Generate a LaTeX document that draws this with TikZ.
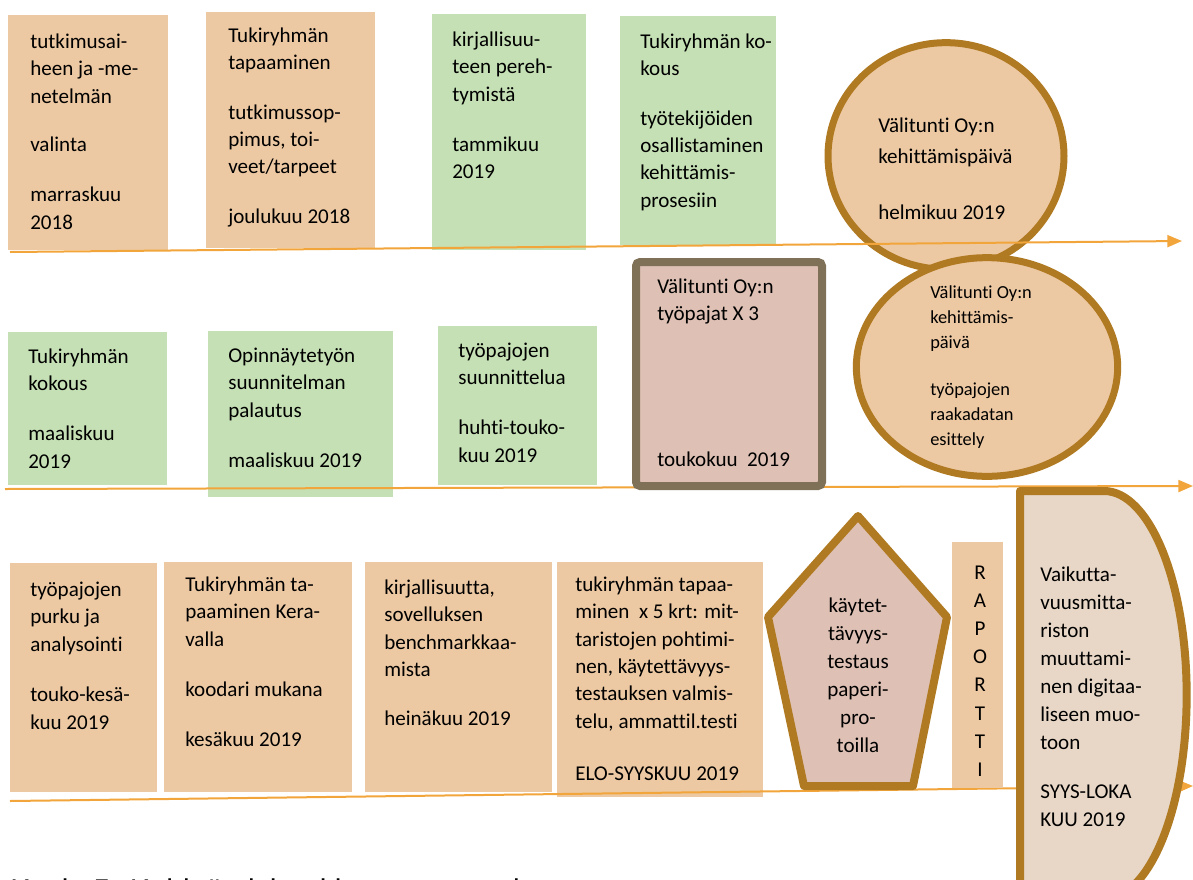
\documentclass[tikz,border=0pt]{standalone}
\usepackage{fontspec}
\newfontfamily\calfont[Ligatures=NoCommon]{Carlito}
\newfontfamily\capfont{Liberation Sans}
\usetikzlibrary{arrows.meta}
\definecolor{peach}{HTML}{EDC9A3}
\definecolor{mint}{HTML}{C5E0B4}
\definecolor{rose}{HTML}{DEC1B4}
\definecolor{beige}{HTML}{E8D7C6}
\definecolor{bronze}{HTML}{B07A22}
\definecolor{taupe}{HTML}{7F7157}
\definecolor{tangerine}{HTML}{F2A53A}
\begin{document}
\begin{tikzpicture}[x=0.75pt,y=-0.75pt,
 txt/.style={anchor=north west,inner sep=0pt,align=left,font=\calfont\fontsize{15.8}{20.5}\selectfont},
 stxt/.style={txt,font=\calfont\fontsize{13.8}{18.75}\selectfont},
 timeline/.style={draw=tangerine,line width=1.5pt,-{Triangle[length=11pt,width=9pt]}},
 bronzeborder/.style={draw=bronze,line width=5.5pt,line join=round}]
\useasboundingbox (0,0) rectangle (1193,879);
\clip (0,0) rectangle (1193,879);
\fill[white] (0,0) rectangle (1193,879);

% ---------- row 1 ----------
\fill[peach] (8,15) rectangle (168,250);
\fill[peach] (206,12) rectangle (375,248);
\fill[mint] (432,14) rectangle (586,250);
\fill[mint] (620,16) rectangle (776,245);
\draw[bronzeborder,line width=5.25pt,fill=peach] (946,156) ellipse [x radius=88.5pt,y radius=85pt];

\node[txt] (tA) at (30,29) {\strut tutkimusai-\\heen ja -me-\\netelmän\\[16pt]valinta\\[17pt]marraskuu\\2018};
\node[txt] (tB) at (228,23) {\strut Tukiryhmän\\tapaaminen\\[16.5pt]tutkimussop-\\pimus, toi-\\veet/tarpeet\\[16.5pt]joulukuu 2018};
\node[txt] (tC) at (452,27) {\strut kirjallisuu-\\teen pereh-\\tymistä\\[17pt]tammikuu\\2019};
\node[txt] (tD) at (640,29) {\strut Tukiryhmän ko-\\kous\\[16.5pt]työtekijöiden\\osallistaminen\\kehittämis-\\prosesiin};
\node[txt] (tE) at (878,113) {\strut Välitunti Oy:n\\[3pt]kehittämispäivä\\[21pt]helmikuu 2019};

\coordinate (l1s) at (10,252);
\coordinate (l1e) at (1182,241);
\draw[timeline] (l1s) -- (l1e);

% ---------- row 2 ----------
\fill[mint] (8,332) rectangle (167,485);
\fill[mint] (208,331) rectangle (393,497);
\fill[mint] (438,326) rectangle (597,485);

\node[txt] (tF) at (28,344) {\strut Tukiryhmän\\kokous\\[17pt]maaliskuu\\2019};
\node[txt] (tG) at (228,343) {\strut Opinnäytetyön\\suunnitelman\\palautus\\[17.5pt]maaliskuu 2019};
\node[txt] (tH) at (458,338) {\strut työpajojen\\suunnittelua\\[17pt]huhti-touko-\\kuu 2019};

\coordinate (l2s) at (5,489);
\coordinate (l2e) at (1193,486);
\draw[timeline] (l2s) -- (l2e);

\draw[draw=taupe,line width=6pt,fill=rose,rounded corners=3pt] (636,262) rectangle (822,486);
\node[txt] (tI) at (657,274) {\strut Välitunti Oy:n\\työpajat X 3\\[89pt]toukokuu\ \ 2019};

\draw[bronzeborder,line width=5.25pt,fill=peach] (987,367) ellipse [x radius=98pt,y radius=82pt];
\node[stxt] (tJ) at (930,281) {\strut Välitunti Oy:n\\kehittämis-\\päivä\\[16.5pt]työpajojen\\raakadatan\\esittely};

% ---------- row 3 ----------
\fill[peach] (10,563) rectangle (157,792);
\fill[peach] (164,562) rectangle (352,792);
\fill[peach] (365,562) rectangle (552,792);
\fill[peach] (557,562) rectangle (763,797);

\node[txt] (tK) at (30,577) {\strut työpajojen\\purku ja\\analysointi\\[17.5pt]touko-kesä-\\kuu 2019};
\node[txt] (tL) at (185,572) {\strut Tukiryhmän ta-\\paaminen Kera-\\valla\\[17.5pt]koodari mukana\\[16.5pt]kesäkuu 2019};
\node[txt] (tM) at (384,575) {\strut kirjallisuutta,\\sovelluksen\\benchmarkkaa-\\mista\\[16.5pt]heinäkuu 2019};
\node[txt] (tN) at (575,572) {\strut tukiryhmän tapaa-\\minen\ \ x 5 krt: mit-\\taristojen pohtimi-\\nen, käytettävyys-\\testauksen valmis-\\telu, ammattil.testi\\[18.5pt]ELO-SYYSKUU 2019};

\coordinate (l3s) at (10,801);
\coordinate (l3e) at (1193,786);
\draw[timeline] (l3s) -- (l3e);

\draw[bronzeborder,line width=6pt,fill=rose] (858,516) -- (947,617) -- (913,786) -- (804,786) -- (768,617) -- cycle;
\node[txt,anchor=north,align=center,font=\calfont\fontsize{15.8}{21}\selectfont] (tO) at (858,593) {\strut käytet-\\tävyys-\\testaus\\paperi-\\pro-\\toilla};

\fill[peach] (952,542) rectangle (1003,788);
\node[txt,anchor=north,align=center,font=\calfont\fontsize{15.8}{21.15}\selectfont] (tP) at (980,559) {\strut R\\A\\P\\O\\R\\T\\T\\I};

\draw[bronzeborder,line width=6pt,fill=beige] (1020,899) -- (1020,491) -- (1104,491) arc[start angle=90,end angle=-90,x radius=62pt,y radius=153pt] -- cycle;
\node[txt,font=\calfont\fontsize{15.8}{21}\selectfont] (tQ) at (1040,562) {\strut Vaikutta-\\vuusmitta-\\riston\\muuttami-\\nen digitaa-\\liseen muo-\\toon\\[15.75pt]SYYS-LOKA\\KUU 2019};

% ---------- caption (cut off at the bottom edge, as in the reference) ----------
\node[anchor=base west,inner sep=0pt,font=\capfont\fontsize{22.5}{27}\selectfont] (cap) at (10,900) {Kuvio 5. Kehittämishankkeen prosessi};
\end{tikzpicture}
\end{document}
